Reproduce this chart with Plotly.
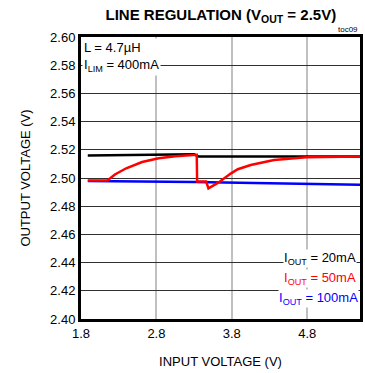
import plotly.graph_objects as go

# Data
vin_20 = [1.89, 2.4, 2.9, 3.3, 3.36, 3.8, 4.5, 5.5]
vout_20 = [2.5160, 2.5163, 2.5166, 2.5168, 2.5152, 2.5152, 2.5152, 2.5152]

vin_50 = [1.89, 2.15, 2.25, 2.40, 2.61, 2.83, 3.05, 3.30, 3.335, 3.34, 3.46, 3.49, 3.62, 3.79, 3.88, 4.05, 4.36, 4.79, 5.5]
vout_50 = [2.4982, 2.4982, 2.5025, 2.5069, 2.5113, 2.5140, 2.5155, 2.5165, 2.5165, 2.4975, 2.4975, 2.4927, 2.4967, 2.5033, 2.5062, 2.5092, 2.5128, 2.5147, 2.5152]

vin_100 = [1.89, 3.3, 5.5]
vout_100 = [2.4979, 2.4972, 2.4953]

x_ticks = [1.8, 2.8, 3.8, 4.8]
y_ticks = [2.40, 2.42, 2.44, 2.46, 2.48, 2.50, 2.52, 2.54, 2.56, 2.58, 2.60]

FONT = "Liberation Sans Narrow, Arial Narrow, Liberation Sans, Arial"

fig = go.Figure()
fig.add_trace(go.Scatter(x=vin_20, y=vout_20, mode="lines",
                         line=dict(color="black", width=2.5), hoverinfo="skip"))
fig.add_trace(go.Scatter(x=vin_100, y=vout_100, mode="lines",
                         line=dict(color="#0000ff", width=2.5), hoverinfo="skip"))
fig.add_trace(go.Scatter(x=vin_50, y=vout_50, mode="lines",
                         line=dict(color="#ff0000", width=2.5), hoverinfo="skip"))

fig.update_layout(
    width=365, height=373,
    margin=dict(l=81, r=2, t=37, b=54),
    paper_bgcolor="white", plot_bgcolor="white",
    showlegend=False,
    font=dict(family=FONT, size=13, color="black"),
    xaxis=dict(range=[1.8, 5.5], tickvals=x_ticks, ticktext=[f"{v:.1f}" for v in x_ticks],
               showgrid=True, gridcolor="#c0c0c0", gridwidth=2,
               zeroline=False, showline=True, linecolor="black", linewidth=3, mirror=True,
               ticks="", tickfont=dict(size=13),
               title=dict(text="INPUT VOLTAGE (V)", font=dict(size=13), standoff=18)),
    yaxis=dict(range=[2.40, 2.60], tickvals=y_ticks, ticktext=[f"{v:.2f}" for v in y_ticks],
               showgrid=True, gridcolor="#303030", gridwidth=1,
               zeroline=False, showline=True, linecolor="black", linewidth=3, mirror=True,
               ticks="", tickfont=dict(size=13),
               title=dict(text="OUTPUT VOLTAGE (V)", font=dict(size=13), standoff=17)),
    title=dict(text="<b>LINE REGULATION (V<sub>OUT</sub> = 2.5V)</b>", x=0.605, xanchor="center",
               y=0.96, yanchor="middle", font=dict(family=FONT, size=15)),
)

ann = [
    dict(text="toc09", x=1.0, y=1.0, xref="paper", yref="paper", xanchor="right", yanchor="bottom",
         font=dict(size=8), showarrow=False, yshift=1),
    dict(text="L = 4.7µH<br>I<sub>LIM</sub> = 400mA", x=0.005, y=0.995, xref="paper", yref="paper",
         xanchor="left", yanchor="top", align="left", bgcolor="white", showarrow=False,
         font=dict(size=13), borderpad=1),
    dict(text="I<sub>OUT</sub> = 20mA", x=0.99, y=0.213, xref="paper", yref="paper",
         xanchor="right", yanchor="middle", bgcolor="white", showarrow=False,
         font=dict(size=13, color="black"), borderpad=0),
    dict(text="I<sub>OUT</sub> = 50mA", x=0.99, y=0.142, xref="paper", yref="paper",
         xanchor="right", yanchor="middle", bgcolor="white", showarrow=False,
         font=dict(size=13, color="#ff0000"), borderpad=0),
    dict(text="I<sub>OUT</sub> = 100mA", x=0.995, y=0.074, xref="paper", yref="paper",
         xanchor="right", yanchor="middle", bgcolor="white", showarrow=False,
         font=dict(size=13, color="#0000ff"), borderpad=0),
]
fig.update_layout(annotations=ann)

fig.write_html("out.html")
